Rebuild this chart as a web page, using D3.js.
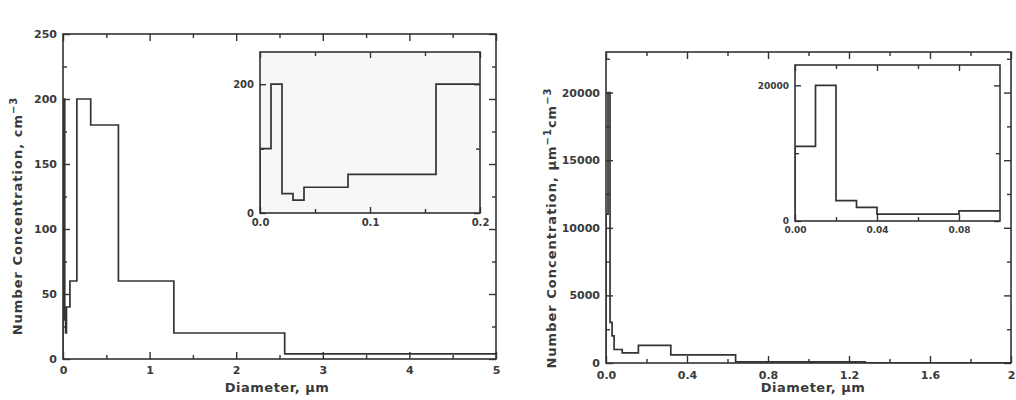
<!DOCTYPE html>
<html><head><meta charset="utf-8">
<script src="https://cdn.jsdelivr.net/npm/d3@7"></script>
<style>
body{margin:0;background:#fff}
text{font-family:"DejaVu Sans",sans-serif;font-weight:bold;fill:#3a3a3a}
</style>
</head><body>
<svg id="chart" width="1016" height="400"></svg>
<script>
// ---- data ----
const binEdges = [0, 0.01, 0.02, 0.03, 0.04, 0.08, 0.16, 0.32, 0.64, 1.28, 2.56, 5.12];
const leftCounts = [100, 200, 30, 20, 40, 60, 200, 180, 60, 20, 4];          // cm^-3
const rightDensity = [11000, 20000, 3000, 2000, 1000, 750, 1300, 600, 90, 15, 2]; // um^-1 cm^-3
const rightInsetDensity = [11000, 20000, 3000, 2000, 1000, 1500, 1300, 600, 90, 15, 2];

const leftXMajor = [0, 1, 2, 3, 4, 5];
const leftXMinor = [0.5, 1.5, 2.5, 3.5, 4.5];
const leftYMajor = [0, 50, 100, 150, 200, 250];
const leftYMinor = [25, 75, 125, 175, 225];
const leftInsetXMajor = [0, 0.1, 0.2];
const leftInsetXLabels = ["0.0", "0.1", "0.2"];
const leftInsetXMinor = [0.05, 0.15];
const leftInsetYMajor = [0, 200];
const leftInsetYMinor = [100];

const rightXMajor = [0, 0.4, 0.8, 1.2, 1.6, 2];
const rightXLabels = ["0.0", "0.4", "0.8", "1.2", "1.6", "2"];
const rightXMinor = [0.2, 0.6, 1.0, 1.4, 1.8];
const rightYMajor = [0, 5000, 10000, 15000, 20000];
const rightYMinor = [2500, 7500, 12500, 17500, 22500];
const rightInsetXMajor = [0, 0.04, 0.08];
const rightInsetXLabels = ["0.00", "0.04", "0.08"];
const rightInsetXMinor = [0.02, 0.06];
const rightInsetYMajor = [0, 20000];
const rightInsetYMinor = [10000];

const svg = d3.select("#chart");
const ink = "#333";
let clipId = 0;

function panel(box, xDom, yDom, xMaj, xLab, xMin, yMaj, yMin, vals, fs, majLen, minLen, xPad) {
  const g = svg.append("g");
  const x = d3.scaleLinear().domain(xDom).range([box.l, box.r]);
  const y = d3.scaleLinear().domain(yDom).range([box.b, box.t]);
  g.append("rect").attr("x", box.l).attr("y", box.t)
    .attr("width", box.r - box.l).attr("height", box.b - box.t)
    .attr("fill", box.fill || "#fff").attr("stroke", "none");

  const id = "clip" + (clipId++);
  g.append("clipPath").attr("id", id).append("rect")
    .attr("x", box.l).attr("y", box.t).attr("width", box.r - box.l).attr("height", box.b - box.t);

  const pts = [[binEdges[0], 0]];
  vals.forEach((v, i) => pts.push([binEdges[i], v]));
  pts.push([binEdges[vals.length], vals[vals.length - 1]]);
  const line = d3.line().x(d => x(d[0])).y(d => y(d[1])).curve(d3.curveStepAfter);
  g.append("path").attr("clip-path", `url(#${id})`).attr("d", line(pts))
    .attr("fill", "none").attr("stroke", ink).attr("stroke-width", 1.7);

  const fmtX = d => xLab ? xLab[xMaj.indexOf(d)] : d3.format("d")(d);
  const add = (axis, tx, ty) => {
    const a = g.append("g").attr("transform", `translate(${tx},${ty})`).call(axis);
    a.select(".domain").remove();
    a.selectAll("line").attr("stroke", ink).attr("stroke-width", 1.4);
    a.selectAll("text").attr("font-size", fs).attr("fill", "#3a3a3a")
      .attr("font-family", '"DejaVu Sans",sans-serif').attr("font-weight", "bold");
    return a;
  };
  add(d3.axisBottom(x).tickValues(xMaj).tickFormat(fmtX).tickSizeInner(-majLen).tickSizeOuter(0).tickPadding(xPad), 0, box.b);
  add(d3.axisBottom(x).tickValues(xMin).tickFormat("").tickSizeInner(-minLen).tickSizeOuter(0), 0, box.b);
  add(d3.axisTop(x).tickValues(xMaj).tickFormat("").tickSizeInner(-majLen).tickSizeOuter(0), 0, box.t);
  add(d3.axisTop(x).tickValues(xMin).tickFormat("").tickSizeInner(-minLen).tickSizeOuter(0), 0, box.t);
  add(d3.axisLeft(y).tickValues(yMaj).tickFormat(d3.format("d")).tickSizeInner(-majLen).tickSizeOuter(0).tickPadding(6), box.l, 0);
  add(d3.axisLeft(y).tickValues(yMin).tickFormat("").tickSizeInner(-minLen).tickSizeOuter(0), box.l, 0);
  add(d3.axisRight(y).tickValues(yMaj).tickFormat("").tickSizeInner(-majLen).tickSizeOuter(0), box.r, 0);
  add(d3.axisRight(y).tickValues(yMin).tickFormat("").tickSizeInner(-minLen).tickSizeOuter(0), box.r, 0);

  g.append("rect").attr("x", box.l).attr("y", box.t)
    .attr("width", box.r - box.l).attr("height", box.b - box.t)
    .attr("fill", "none").attr("stroke", ink).attr("stroke-width", 1.6);
  return g;
}

// Left main
panel({l: 63, r: 496, t: 34, b: 359}, [0, 5], [0, 250],
  leftXMajor, null, leftXMinor, leftYMajor, leftYMinor, leftCounts, 11, 7, 4, 7);
// Left inset
panel({l: 260, r: 480, t: 52, b: 213, fill: "#f6f7f9"}, [0, 0.2], [0, 250],
  leftInsetXMajor, leftInsetXLabels, leftInsetXMinor, leftInsetYMajor, leftInsetYMinor, leftCounts, 10, 6, 4, 6);
// Right main
panel({l: 606, r: 1011, t: 52, b: 363}, [0, 2], [0, 23000],
  rightXMajor, rightXLabels, rightXMinor, rightYMajor, rightYMinor, rightDensity, 11, 7, 4, 8);
// Right inset
panel({l: 795, r: 1000, t: 65, b: 221}, [0, 0.1], [0, 23000],
  rightInsetXMajor, rightInsetXLabels, rightInsetXMinor, rightInsetYMajor, rightInsetYMinor, rightInsetDensity, 9, 6, 4, 6);

// Axis titles
svg.append("text").attr("x", 277).attr("y", 392).attr("text-anchor", "middle")
  .attr("font-size", 13).attr("letter-spacing", 0.5).text("Diameter,  μm");
svg.append("text").attr("x", 813).attr("y", 392).attr("text-anchor", "middle")
  .attr("font-size", 13).attr("letter-spacing", 0.5).text("Diameter,  μm");

const yl = svg.append("text").attr("transform", "translate(22,216) rotate(-90)")
  .attr("text-anchor", "middle").attr("font-size", 13).attr("letter-spacing", 1);
yl.append("tspan").text("Number  Concentration,  cm");
yl.append("tspan").attr("dy", -5).attr("font-size", 10).text("−3");

const yr = svg.append("text").attr("transform", "translate(556,228) rotate(-90)")
  .attr("text-anchor", "middle").attr("font-size", 13).attr("letter-spacing", 1);
yr.append("tspan").text("Number  Concentration,  μm");
yr.append("tspan").attr("dy", -5).attr("font-size", 10).text("−1");
yr.append("tspan").attr("dy", 5).text("cm");
yr.append("tspan").attr("dy", -5).attr("font-size", 10).text("−3");
</script>
</body></html>
